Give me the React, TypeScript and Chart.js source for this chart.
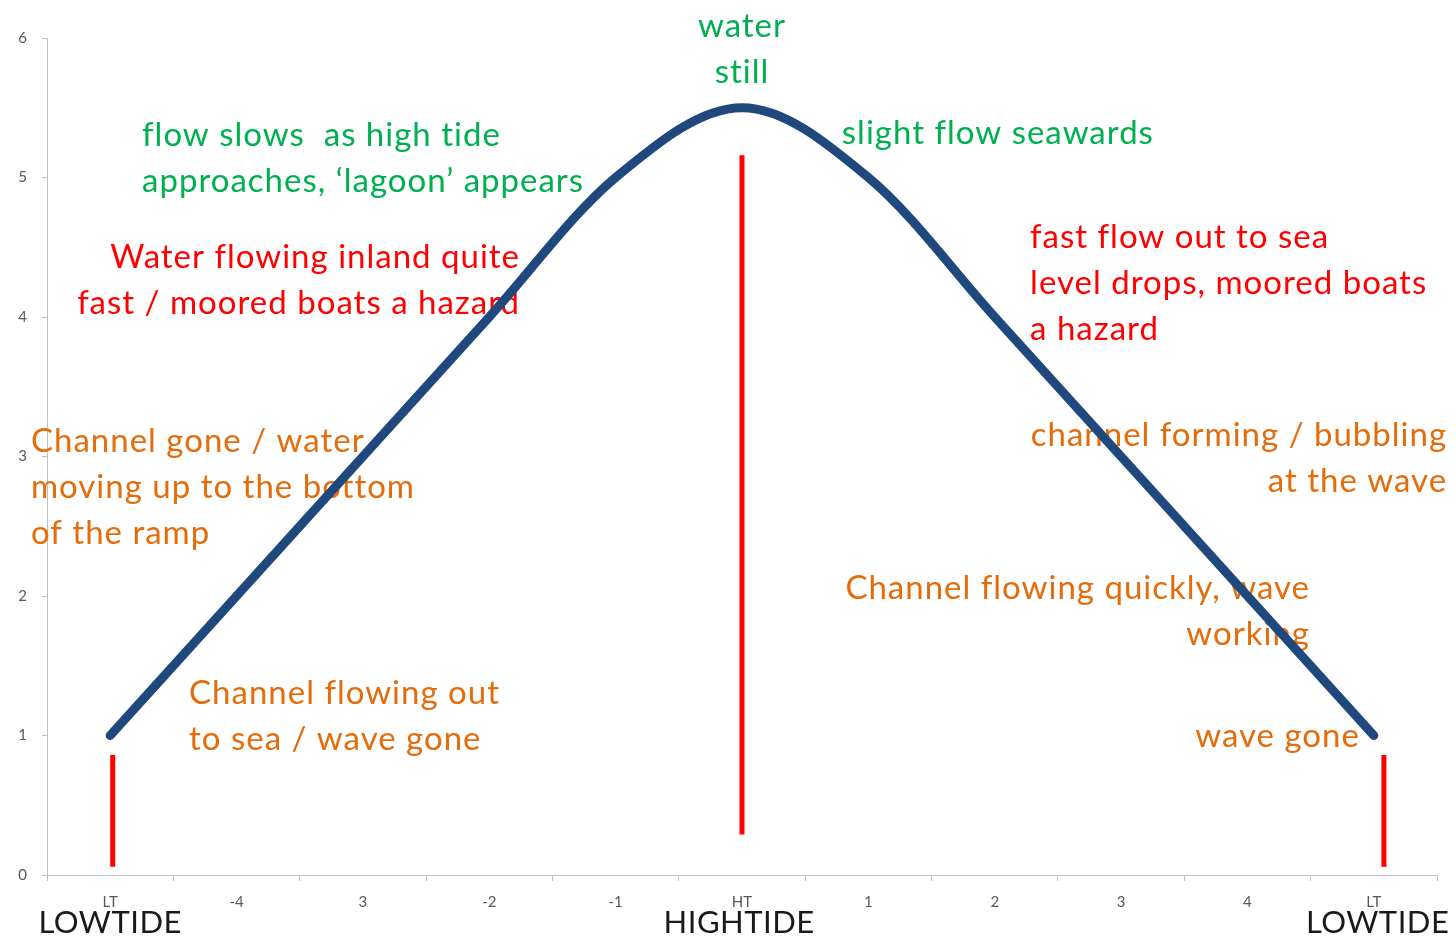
import React, { useEffect, useRef } from "react";
import { Chart, registerables } from "chart.js";

Chart.register(...registerables);

const categories = ["LT", "-4", "3", "-2", "-1", "HT", "1", "2", "3", "4", "LT"];
const tideLevel = [1, 2, 3, 4, 5, 5.5, 5, 4, 3, 2, 1];
const yTicks = [0, 1, 2, 3, 4, 5, 6];

// red marker lines: x position (category index), y from / to
const markerX = [0.02, 5.0, 10.08];
const markerFrom = [0.06, 0.29, 0.06];
const markerTo = [0.86, 5.16, 0.86];

const GREEN = "#00b050";
const RED = "#ff0000";
const ORANGE = "#e46c0a";
const DARK = "#1a1a1a";

type Note = { lines: string[]; x: number; y: number; align: CanvasTextAlign; color: string; size: number; spacing: number };

// annotations: x in category index units, y = value at first line centre
const notes: Note[] = [
  { lines: ["water", "still"], x: 5.0, y: 6.08, align: "center", color: GREEN, size: 33, spacing: 1 },
  { lines: ["flow slows  as high tide", "approaches, \u2018lagoon\u2019 appears"], x: 0.252, y: 5.305, align: "left", color: GREEN, size: 33, spacing: 1 },
  { lines: ["slight flow seawards"], x: 5.79, y: 5.32, align: "left", color: GREEN, size: 33, spacing: 1 },
  { lines: ["Water flowing inland quite", "fast / moored boats a hazard"], x: 3.243, y: 4.43, align: "right", color: RED, size: 33, spacing: 1 },
  { lines: ["fast flow out to sea", "level drops, moored boats", "a hazard"], x: 7.28, y: 4.573, align: "left", color: RED, size: 33, spacing: 1 },
  { lines: ["Channel gone / water", "moving up to the bottom", "of the ramp"], x: -0.627, y: 3.111, align: "left", color: ORANGE, size: 33, spacing: 1 },
  { lines: ["channel forming / bubbling", "at the wave"], x: 10.58, y: 3.154, align: "right", color: ORANGE, size: 33, spacing: 1 },
  { lines: ["Channel flowing quickly, wave", "working"], x: 9.495, y: 2.057, align: "right", color: ORANGE, size: 33, spacing: 1 },
  { lines: ["Channel flowing out", "to sea / wave gone"], x: 0.624, y: 1.305, align: "left", color: ORANGE, size: 33, spacing: 1 },
  { lines: ["wave gone"], x: 9.89, y: 0.996, align: "right", color: ORANGE, size: 33, spacing: 1 },
  { lines: ["LOWTIDE"], x: 0.0, y: -0.344, align: "center", color: DARK, size: 31, spacing: 0.5 },
  { lines: ["HIGHTIDE"], x: 4.977, y: -0.344, align: "center", color: DARK, size: 31, spacing: 0.5 },
  { lines: ["LOWTIDE"], x: 10.03, y: -0.344, align: "center", color: DARK, size: 31, spacing: 0.5 },
];

const FONT = "Lato, 'Open Sans', sans-serif";

const notesPlugin = {
  id: "notes",
  beforeDatasetsDraw(chart: any) {
    const ctx = chart.ctx;
    const xs = chart.scales.xl;
    const ys = chart.scales.y;
    ctx.save();
    ctx.textBaseline = "middle";
    for (const n of notes) {
      ctx.font = `${n.size}px ${FONT}`;
      (ctx as any).letterSpacing = `${n.spacing}px`;
      ctx.fillStyle = n.color;
      ctx.textAlign = n.align;
      const px = xs.getPixelForValue(n.x);
      const py0 = ys.getPixelForValue(n.y);
      n.lines.forEach((line, i) => {
        ctx.fillText(line, px, py0 + i * 46);
      });
    }
    ctx.restore();
  },
};

export default function App() {
  const ref = useRef<HTMLCanvasElement | null>(null);

  useEffect(() => {
    document.body.style.margin = "0";
    const markerData: any[] = [];
    markerX.forEach((x, i) => {
      markerData.push({ x, y: markerFrom[i] });
      markerData.push({ x, y: markerTo[i] });
      markerData.push({ x, y: null });
    });
    const chart = new Chart(ref.current!, {
      type: "line",
      data: {
        labels: categories,
        datasets: [
          {
            data: tideLevel,
            borderColor: "#1f497d",
            borderWidth: 9,
            borderCapStyle: "round",
            borderJoinStyle: "round",
            pointRadius: 0,
            cubicInterpolationMode: "monotone",
            xAxisID: "x",
            yAxisID: "y",
          } as any,
          {
            data: markerData,
            borderColor: RED,
            borderWidth: 5,
            pointRadius: 0,
            spanGaps: false,
            xAxisID: "xl",
            yAxisID: "y",
          } as any,
        ],
      },
      options: {
        animation: false,
        responsive: false,
        layout: { padding: { left: 0, right: 19, top: 38, bottom: 0 } },
        plugins: { legend: { display: false }, tooltip: { enabled: false } },
        scales: {
          x: {
            type: "category",
            offset: true,
            grid: { offset: true, drawOnChartArea: false, drawTicks: true, tickLength: 6, color: "#bfbfbf" },
            border: { color: "#bfbfbf", width: 1 },
            ticks: { color: "#595959", font: { size: 15, family: FONT }, padding: 12, maxRotation: 0, autoSkip: false },
            afterFit(s: any) { s.height = 64; },
          },
          xl: {
            type: "linear",
            min: -0.5,
            max: 10.5,
            display: false,
          },
          y: {
            min: 0,
            max: 6,
            afterBuildTicks(s: any) { s.ticks = yTicks.map((v) => ({ value: v })); },
            grid: { drawOnChartArea: false, drawTicks: true, tickLength: 5, color: "#bfbfbf" },
            border: { color: "#bfbfbf", width: 1 },
            ticks: { color: "#595959", font: { size: 15, family: FONT }, padding: 15 },
            afterFit(s: any) { s.width = 47; },
          },
        },
      },
      plugins: [notesPlugin],
    } as any);
    return () => chart.destroy();
  }, []);

  return <canvas ref={ref} width={1456} height={939} style={{ display: "block" }} />;
}
